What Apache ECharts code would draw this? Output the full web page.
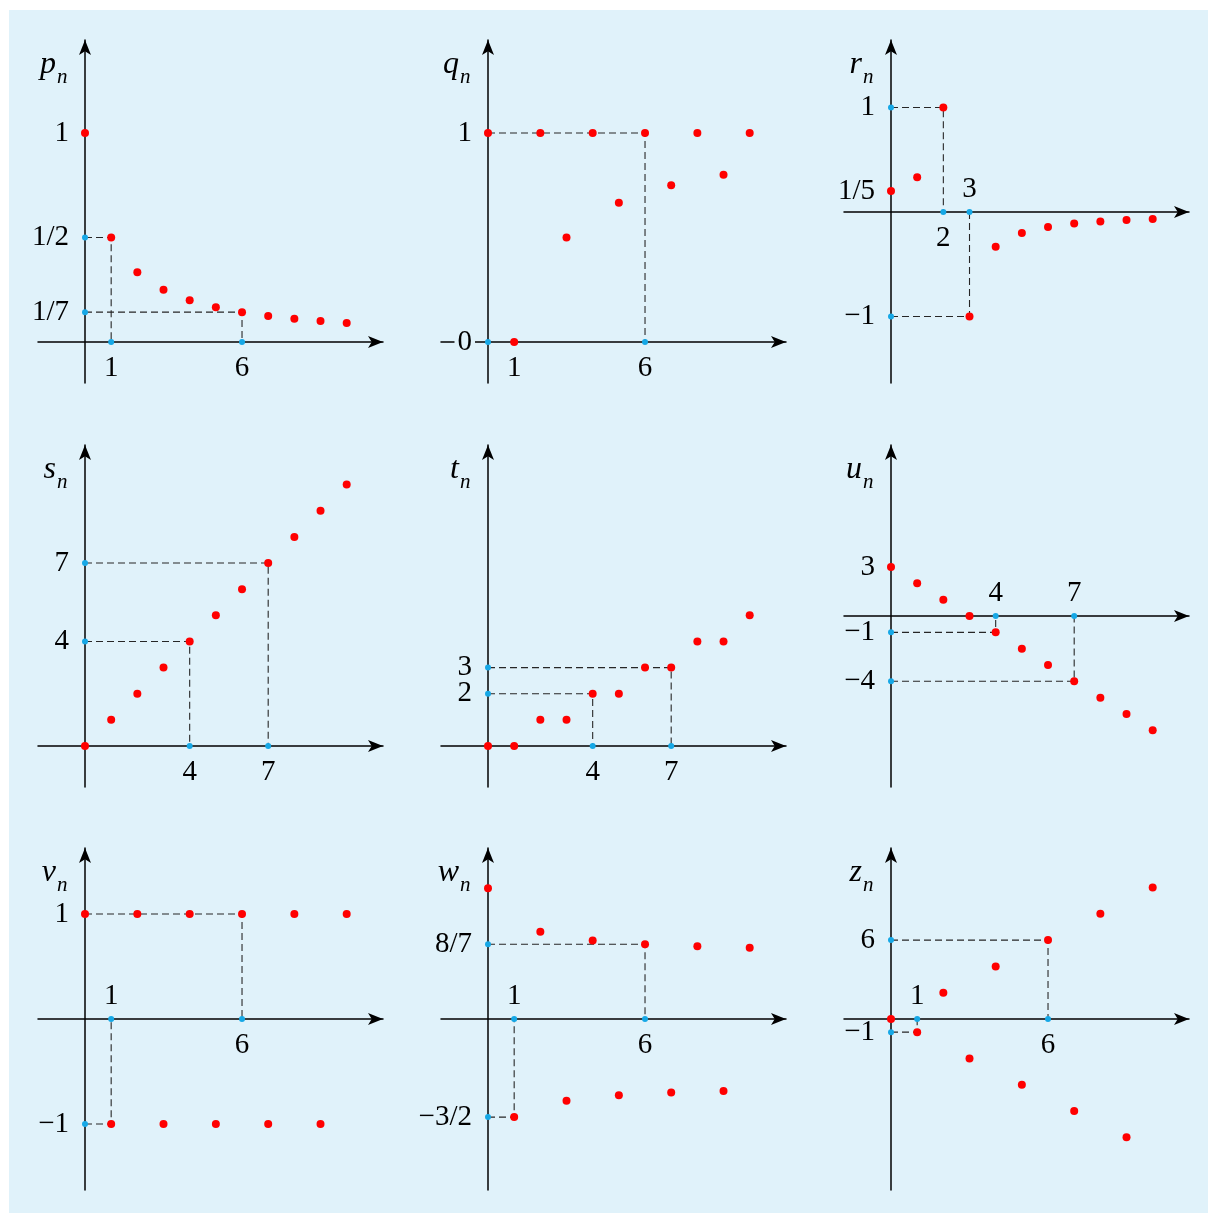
<!DOCTYPE html>
<html>
<head>
<meta charset="utf-8">
<script src="https://cdn.jsdelivr.net/npm/echarts@6/dist/echarts.min.js"></script>
<style>
  html, body { margin: 0; padding: 0; background: #ffffff; }
  #frame { position: absolute; left: 9px; top: 10px; width: 1199px; height: 1203px; background: #e0f2fa; }
  #chart { position: absolute; left: 0; top: 0; width: 1208px; height: 1213px; }
</style>
</head>
<body>
<div id="frame"></div>
<div id="chart"></div>
<script>
// Indices n = 0..10 shared by every sequence
const nValues = [0, 1, 2, 3, 4, 5, 6, 7, 8, 9, 10];

// Terms of each sequence
const pTerms = [1, 1/2, 1/3, 1/4, 1/5, 1/6, 1/7, 1/8, 1/9, 1/10, 1/11];
const qTerms = [1, 0, 1, 1/2, 1, 2/3, 1, 3/4, 1, 4/5, 1];
const rTerms = [1/5, 1/3, 1, -1, -1/3, -1/5, -1/7, -1/9, -1/11, -1/13, -1/15];
const sTerms = [0, 1, 2, 3, 4, 5, 6, 7, 8, 9, 10];
const tTerms = [0, 0, 1, 1, 2, 2, 3, 3, 4, 4, 5];
const uTerms = [3, 2, 1, 0, -1, -2, -3, -4, -5, -6, -7];
const vTerms = [1, -1, 1, -1, 1, -1, 1, -1, 1, -1, 1];
const wTerms = [2, -3/2, 4/3, -5/4, 6/5, -7/6, 8/7, -9/8, 10/9, -11/10, 12/11];
const zTerms = [0, -1, 2, -3, 4, -5, 6, -7, 8, -9, 10];

// Highlighted terms [n, value] read back onto the axes with dashed guides
const pMarks = [[1, 1/2], [6, 1/7]];
const qMarks = [[6, 1]];
const rMarks = [[2, 1], [3, -1]];
const sMarks = [[4, 4], [7, 7]];
const tMarks = [[4, 2], [7, 3]];
const uMarks = [[4, -1], [7, -4]];
const vMarks = [[6, 1], [1, -1]];
const wMarks = [[6, 8/7], [1, -3/2]];
const zMarks = [[6, 6], [1, -1]];

// Tick labels: [x, y, text, side]
const pTicks = [[0, 1, '1', 'left'], [0, 1/2, '1/2', 'left'], [0, 1/7, '1/7', 'left'], [1, 0, '1', 'bottom'], [6, 0, '6', 'bottom']];
const qTicks = [[0, 1, '1', 'left'], [0, 0, '0', 'zero'], [1, 0, '1', 'bottom'], [6, 0, '6', 'bottom']];
const rTicks = [[0, 1, '1', 'left'], [0, 1/5, '1/5', 'left'], [0, -1, '\u22121', 'left'], [2, 0, '2', 'bottom'], [3, 0, '3', 'top']];
const sTicks = [[0, 7, '7', 'left'], [0, 4, '4', 'left'], [4, 0, '4', 'bottom'], [7, 0, '7', 'bottom']];
const tTicks = [[0, 3, '3', 'left'], [0, 2, '2', 'left'], [4, 0, '4', 'bottom'], [7, 0, '7', 'bottom']];
const uTicks = [[0, 3, '3', 'left'], [0, -1, '\u22121', 'left'], [0, -4, '\u22124', 'left'], [4, 0, '4', 'top'], [7, 0, '7', 'top']];
const vTicks = [[0, 1, '1', 'left'], [0, -1, '\u22121', 'left'], [1, 0, '1', 'top'], [6, 0, '6', 'bottom']];
const wTicks = [[0, 8/7, '8/7', 'left'], [0, -3/2, '\u22123/2', 'left'], [1, 0, '1', 'top'], [6, 0, '6', 'bottom']];
const zTicks = [[0, 6, '6', 'left'], [0, -1, '\u22121', 'left'], [1, 0, '1', 'top'], [6, 0, '6', 'bottom']];

// Extra points sitting on the axes (besides the projections of the marks)
const qAxisDots = [[0, 0]];

const panels = [
  { name: 'p', terms: pTerms, marks: pMarks, ticks: pTicks, extra: [] },
  { name: 'q', terms: qTerms, marks: qMarks, ticks: qTicks, extra: qAxisDots },
  { name: 'r', terms: rTerms, marks: rMarks, ticks: rTicks, extra: [] },
  { name: 's', terms: sTerms, marks: sMarks, ticks: sTicks, extra: [] },
  { name: 't', terms: tTerms, marks: tMarks, ticks: tTicks, extra: [] },
  { name: 'u', terms: uTerms, marks: uMarks, ticks: uTicks, extra: [] },
  { name: 'v', terms: vTerms, marks: vMarks, ticks: vTicks, extra: [] },
  { name: 'w', terms: wTerms, marks: wMarks, ticks: wTicks, extra: [] },
  { name: 'z', terms: zTerms, marks: zMarks, ticks: zTicks, extra: [] }
];

// Layout: pixel origin of each plot and its vertical scale (px per unit)
const colOrigin = [85, 488, 891];
const rowTop = [40, 445, 848];      // tip of the vertical arrow
const rowBottom = [383, 787, 1190];
const xScale = 26.17;
const xLeftPad = 47, xRightPad = 298;
const yFrame = [
  { oy: 342, k: 209 }, { oy: 342, k: 209 }, { oy: 212, k: 104.5 },
  { oy: 746, k: 26.14 }, { oy: 746, k: 26.14 }, { oy: 616, k: 16.33 },
  { oy: 1019, k: 105 }, { oy: 1019, k: 65.4 }, { oy: 1019, k: 13.15 }
];

const BG = '#e0f2fa';
const RED = '#ff0000';
const BLUE = '#16a8e6';
const FONT = '"Liberation Serif", "DejaVu Serif", serif';

const grids = [], xAxes = [], yAxes = [], series = [], graphics = [];

panels.forEach(function (pn, i) {
  const c = i % 3, r = Math.floor(i / 3);
  const ox = colOrigin[c];
  const top = rowTop[r];
  const bottom = rowBottom[r];
  const left = ox - xLeftPad;
  const right = ox + xRightPad;
  const f = yFrame[i];

  grids.push({ left: left, top: top, width: right - left, height: bottom - top, containLabel: false });

  const axisCommon = {
    type: 'value',
    gridIndex: i,
    axisLine: {
      show: true, onZero: true,
      symbol: ['none', 'arrow'], symbolSize: [9, 15],
      lineStyle: { color: '#000', width: 1.5 }
    },
    axisTick: { show: false },
    axisLabel: { show: false },
    splitLine: { show: false }
  };
  xAxes.push(Object.assign({}, axisCommon, { min: -xLeftPad / xScale, max: (right - ox) / xScale }));
  yAxes.push(Object.assign({}, axisCommon, { min: -(bottom - f.oy) / f.k, max: (f.oy - top) / f.k }));

  // dashed guides from each highlighted term to both axes
  pn.marks.forEach(function (m) {
    series.push({
      type: 'line', xAxisIndex: i, yAxisIndex: i, silent: true, symbol: 'none', z: 1,
      lineStyle: { color: '#262626', width: 1.1, type: [7, 4], opacity: 1 },
      data: [[0, m[1]], [m[0], m[1]], [m[0], 0]]
    });
  });

  // blue projection dots on the axes
  const blue = [];
  pn.marks.forEach(function (m) {
    blue.push([m[0], 0]);
    blue.push([0, m[1]]);
  });
  pn.extra.forEach(function (e) { blue.push(e); });
  series.push({
    type: 'scatter', xAxisIndex: i, yAxisIndex: i, silent: true, z: 3,
    symbolSize: 6, itemStyle: { color: BLUE, opacity: 1 }, data: blue
  });

  // the terms themselves
  series.push({
    type: 'scatter', xAxisIndex: i, yAxisIndex: i, silent: true, z: 4,
    symbolSize: 8, itemStyle: { color: RED, opacity: 1 },
    data: nValues.map(function (n, k) { return [n, pn.terms[k]]; })
  });

  // tick labels
  series.push({
    type: 'scatter', xAxisIndex: i, yAxisIndex: i, silent: true, z: 5,
    symbolSize: 0, itemStyle: { color: 'transparent', opacity: 1 },
    data: pn.ticks.map(function (t) {
      let lab;
      if (t[3] === 'left') lab = { position: 'left', distance: 16 };
      else if (t[3] === 'bottom') lab = { position: 'bottom', distance: 12 };
      else if (t[3] === 'top') lab = { position: 'top', distance: 8 };
      else lab = { position: 'left', distance: 13, backgroundColor: BG, padding: [0, 3] };
      return { value: [t[0], t[1]], name: t[2], label: lab };
    }),
    label: {
      show: true, formatter: '{b}', color: '#000', opacity: 1,
      fontFamily: FONT, fontSize: 29
    }
  });

  // sequence name with subscript n
  graphics.push({
    type: 'text', x: ox - 29, y: rowTop[r] + 25, silent: true,
    style: { text: pn.name, font: 'italic 32px ' + FONT, fill: '#000', align: 'right', verticalAlign: 'middle' }
  });
  graphics.push({
    type: 'text', x: ox - 28, y: rowTop[r] + 37, silent: true,
    style: { text: 'n', font: 'italic 21px ' + FONT, fill: '#000', align: 'left', verticalAlign: 'middle' }
  });
});

const chart = echarts.init(document.getElementById('chart'), null, { renderer: 'canvas' });
chart.setOption({
  backgroundColor: 'transparent',
  animation: false,
  grid: grids,
  xAxis: xAxes,
  yAxis: yAxes,
  series: series,
  graphic: graphics
});
</script>
</body>
</html>
